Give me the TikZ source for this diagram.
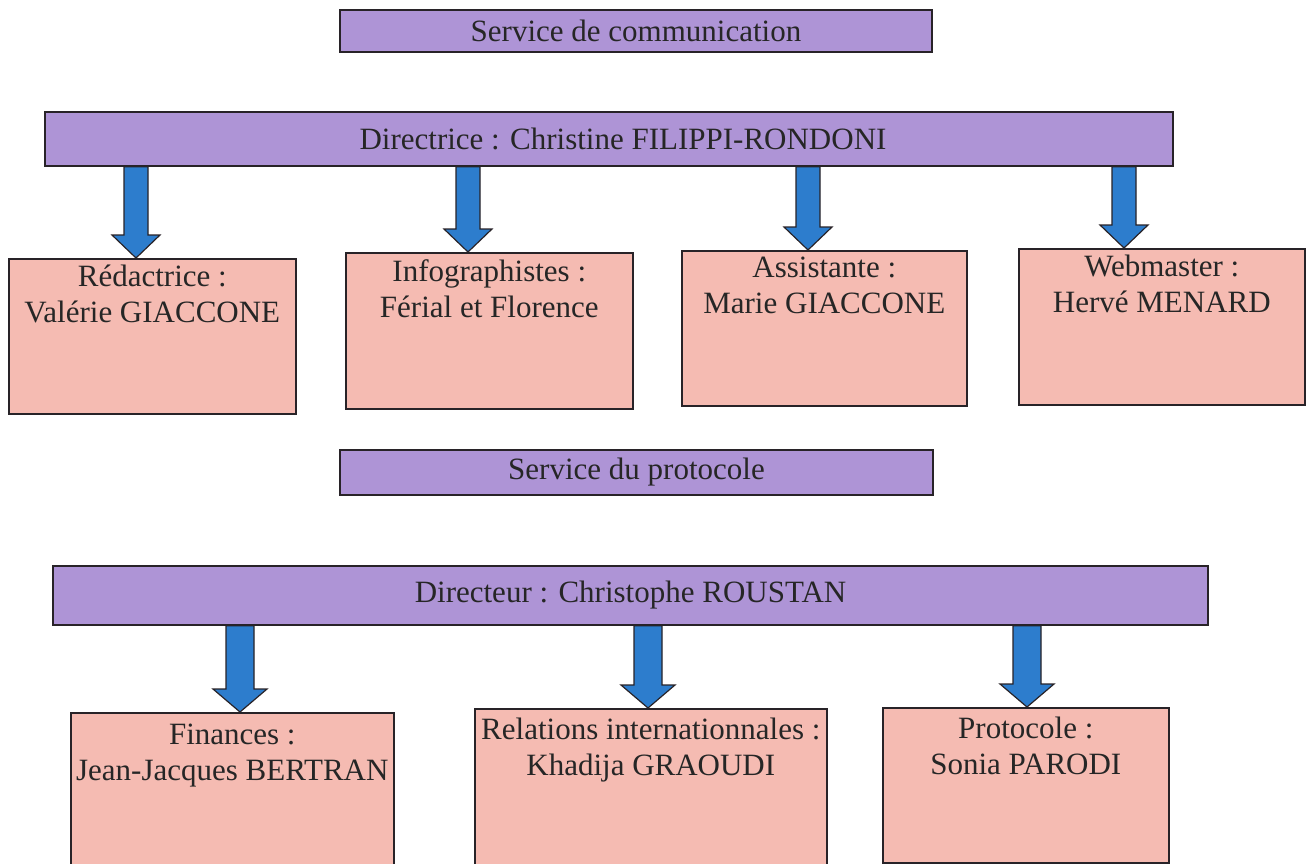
\documentclass[tikz,border=0pt]{standalone}
\usepackage{fontspec}
\setmainfont{Liberation Serif}
\usetikzlibrary{calc}
\definecolor{barpurple}{RGB}{174,148,214}
\definecolor{boxpink}{RGB}{245,187,178}
\definecolor{arrblue}{RGB}{45,125,205}
\definecolor{edge}{RGB}{40,35,40}
\tikzset{
  purplebar/.style={draw=edge, line width=1.6pt, fill=barpurple, inner sep=0pt,
    font=\fontsize{31}{36}\selectfont, text=black!85},
  pinkbox/.style={draw=edge, line width=1.6pt, fill=boxpink, inner sep=0pt},
  boxtext/.style={inner sep=0pt, align=center, anchor=north,
    font=\fontsize{31}{36}\selectfont, text=black!85},
  bluearrow/.style={draw=edge, line width=1.2pt, fill=arrblue, line join=miter}
}
\newcommand\blockarr[5]{% start, end, shaft half width, head half width, head height
  \draw[bluearrow] ($(#1)+(-#3,0)$) -- ($(#2)+(-#3,-#5)$) -- ($(#2)+(-#4,-#5)$) -- (#2)
    -- ($(#2)+(#4,-#5)$) -- ($(#2)+(#3,-#5)$) -- ($(#1)+(#3,0)$) -- cycle;}
\begin{document}
\begin{tikzpicture}[x=1pt,y=-1pt]
\useasboundingbox (0,0) rectangle (1306,864);
\fill[white] (0,0) rectangle (1306,864);
% ---------- Service de communication ----------
\node[purplebar, minimum width=592pt, minimum height=42pt] (t1) at (636,31) {Service de communication};
\node[purplebar, minimum width=1128pt, minimum height=54pt] (dir1) at (609,139) {\hspace*{28pt}Directrice : Christine FILIPPI-RONDONI};
\node[pinkbox, minimum width=287pt, minimum height=155pt, anchor=north west] (b1) at (8,258) {};
\node[pinkbox, minimum width=287pt, minimum height=156pt, anchor=north west] (b2) at (345,252) {};
\node[pinkbox, minimum width=285pt, minimum height=155pt, anchor=north west] (b3) at (681,250) {};
\node[pinkbox, minimum width=286pt, minimum height=156pt, anchor=north west] (b4) at (1018,248) {};
\node[boxtext] (b1t) at ($(b1.north)+(0,7)$) {Rédactrice :\\Valérie GIACCONE};
\node[boxtext] (b2t) at ($(b2.north)+(0,7)$) {Infographistes :\\Férial et Florence};
\node[boxtext] (b3t) at ($(b3.north)+(0,7)$) {Assistante :\\Marie GIACCONE};
\node[boxtext] (b4t) at ($(b4.north)+(0,7)$) {Webmaster :\\Hervé MENARD};
\coordinate (e1) at (136,258);
\coordinate (e2) at (468,252);
\coordinate (e3) at (808,250);
\coordinate (e4) at (1124,248);
\foreach \i in {1,...,4}{
  \coordinate (s\i) at (dir1.south -| e\i);
  \blockarr{s\i}{e\i}{12}{24}{23}
}
% ---------- Service du protocole ----------
\node[purplebar, minimum width=593pt, minimum height=45pt] (t2) at (636.5,472.5) {Service du protocole};
\node[purplebar, minimum width=1155pt, minimum height=59pt] (dir2) at (630.5,595.5) {\raisebox{5pt}{Directeur : Christophe ROUSTAN}};
\node[pinkbox, minimum width=323pt, minimum height=152pt, anchor=north west] (c1) at (70,712) {};
\node[pinkbox, minimum width=352pt, minimum height=156pt, anchor=north west] (c2) at (474,708) {};
\node[pinkbox, minimum width=286pt, minimum height=155pt, anchor=north west] (c3) at (882,707) {};
\node[boxtext] (c1t) at ($(c1.north)+(0,12)$) {Finances :\\Jean-Jacques BERTRAN};
\node[boxtext] (c2t) at ($(c2.north)+(0,10)$) {Relations internationnales :\\Khadija GRAOUDI};
\node[boxtext] (c3t) at ($(c3.north)+(0,10)$) {Protocole :\\Sonia PARODI};
\coordinate (f1) at (240,712);
\coordinate (f2) at (648,708);
\coordinate (f3) at (1027,707);
\foreach \i in {1,2,3}{
  \coordinate (r\i) at (dir2.south -| f\i);
  \blockarr{r\i}{f\i}{14}{27}{23}
}
\end{tikzpicture}
\end{document}
